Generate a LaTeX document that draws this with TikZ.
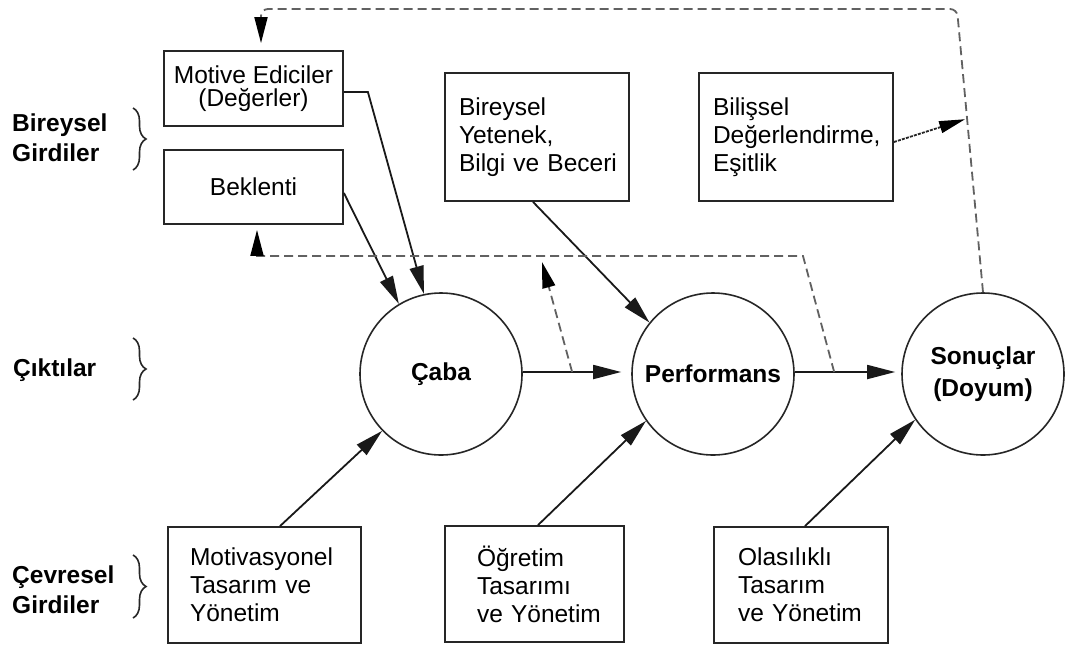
\documentclass[tikz,border=0pt]{standalone}
\usepackage{fontspec}
\setmainfont{Liberation Sans}
\usetikzlibrary{arrows.meta,calc,decorations.pathreplacing}
\begin{document}
\begin{tikzpicture}[x=1pt,y=-1pt,
 box/.style={draw=black!85, line width=1.8pt, inner ysep=0pt, font=\fontsize{24.5}{28}\selectfont,
   execute at begin node={\hyphenpenalty=10000\exhyphenpenalty=10000}},
 circ/.style={circle, draw=black!85, line width=1.6pt, minimum size=162pt, inner sep=0pt, font=\fontsize{24.5}{32}\bfseries\selectfont, align=center},
 arr/.style={draw=black!90, line width=1.8pt, -{Triangle[length=28pt,width=14pt]}},
 dsh/.style={draw=black!62, line width=1.8pt, dash pattern=on 9pt off 5pt, -{Triangle[length=26pt,width=13pt,black]}},
 lbl/.style={font=\fontsize{24.5}{30}\bfseries\selectfont, align=left, anchor=west, inner sep=0pt},
 brc/.style={decorate, decoration={brace, amplitude=13pt}, line width=1.6pt, draw=black!85}]
\useasboundingbox (0,0) rectangle (1065,646);
\fill[white] (0,0) rectangle (1065,646);

% boxes
\node[box, minimum width=179pt, minimum height=75pt, align=center, font=\fontsize{24.5}{23}\selectfont] (mot) at (253.5,88.5) {Motive Ediciler\\(Değerler)};
\node[box, minimum width=179pt, minimum height=74pt] (bek) at (253.5,187) {Beklenti};
\node[box, minimum height=128pt, text width=156pt, inner xsep=14pt, align=left] (bir) at (537,137) {Bireysel\\Yetenek,\\Bilgi~ve~Beceri};
\node[box, minimum height=128pt, text width=166pt, inner xsep=14pt, align=left] (bil) at (796,137) {Bilişsel\\Değerlendirme,\\Eşitlik};
\node[box, minimum height=116pt, text width=149pt, inner xsep=22pt, align=left] (mov) at (264.5,585) {Motivasyonel\\Tasarım~ve\\Yönetim};
\node[box, minimum height=116pt, text width=115pt, inner xsep=32pt, align=left] (ogr) at (534.5,584) {Öğretim\\Tasarımı\\ve~Yönetim};
\node[box, minimum height=116pt, text width=126pt, inner xsep=24pt, align=left] (ola) at (801,585) {Olasılıklı\\Tasarım\\ve~Yönetim};

% circles
\node[circ] (caba) at (441,374) {Çaba};
\node[circ] (perf) at (713,374) {Performans};
\node[circ] (son) at (983,374) {Sonuçlar\\(Doyum)};

% left labels
\node[lbl] (l1) at (12,138) {Bireysel\\Girdiler};
\node[lbl] (l2) at (13,370) {Çıktılar};
\node[lbl] (l3) at (12,590) {Çevresel\\Girdiler};
\draw[brc] (133,108) -- (133,170);
\draw[brc] (133,338) -- (133,400);
\draw[brc] (133,555) -- (133,618);

% solid connectors
\draw[arr] ([yshift=-3.5pt]mot.east) -- ++(24,0) -- (caba.102);
\draw[arr] ([yshift=-6pt]bek.east) -- (caba.121);
\draw[arr] ([xshift=-4pt]bir.south) -- (perf.141);
\draw[arr] ([xshift=15.5pt]mov.north) -- (caba.224);
\draw[arr] ([xshift=3.5pt]ogr.north) -- (perf.215);
\draw[arr] ([xshift=4pt]ola.north) -- (son.214);
\draw[arr, shorten >=10pt] ([yshift=2pt]caba.east) -- ([yshift=2pt]perf.west);
\draw[arr, shorten >=6pt] ([yshift=2pt]perf.east) -- ([yshift=2pt]son.west);

% dashed feedback
\coordinate (tr) at (957,9);
\coordinate (tl) at (261,9);
\draw[dsh, rounded corners=7pt, shorten >=7pt] (son.north) -- (tr) -- (tl) -- (tl |- mot.north);
\coordinate (j1) at ($(son.north)!0.613!(tr)$);
\draw[draw=black!85, line width=1.8pt, dash pattern=on 3pt off 1.2pt, -{Triangle[length=26pt,width=12pt,black]}, shorten >=2pt] ([yshift=-5pt]bil.east) -- (j1);

\coordinate (j2) at ($([yshift=2pt]perf.east)!0.37!([yshift=2pt]son.west)$);
\coordinate (c1) at (803,256);
\coordinate (c2) at (257,256);
\draw[dsh, shorten >=5pt] (j2) -- (c1) -- (c2) -- (c2 |- bek.south);

\coordinate (j3) at ($([yshift=2pt]caba.east)!0.455!([yshift=2pt]perf.west)$);
\coordinate (k) at (542,262);
\draw[dsh] (j3) -- (k);
\end{tikzpicture}
\end{document}
